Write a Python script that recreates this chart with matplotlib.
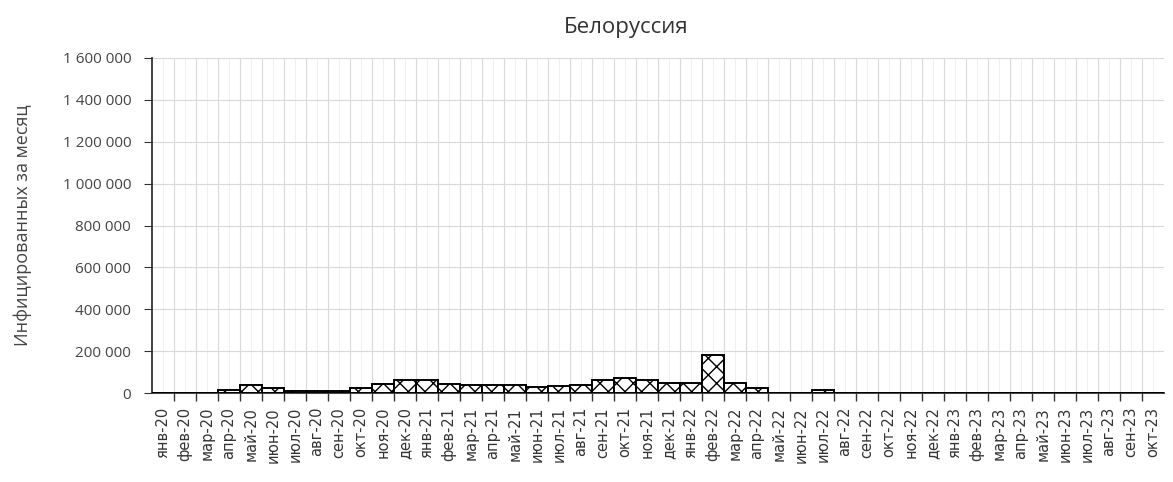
import matplotlib
matplotlib.use("Agg")
import matplotlib.pyplot as plt
import numpy as np
from matplotlib.ticker import FuncFormatter, MultipleLocator

plt.rcParams["font.family"] = ["Open Sans", "DejaVu Sans"]
plt.rcParams["hatch.linewidth"] = 1.0

months = ["янв", "фев", "мар", "апр", "май", "июн",
          "июл", "авг", "сен", "окт", "ноя", "дек"]
labels = [f"{m}-{y}" for y in ("20", "21", "22") for m in months] + \
         [f"{m}-23" for m in months[:10]]

# monthly infected
values = [0, 0, 2000, 16000, 36000, 26000, 11000, 8000, 10000, 22000, 45000, 63000,
          63000, 44000, 38000, 38000, 39000, 28000, 34000, 40000, 63000, 70000, 60000, 50000,
          50000, 180000, 50000, 24000, 2000, 1000, 13000, 0, 0, 0, 0, 0,
          0, 0, 0, 0, 0, 0, 0, 0, 0, 0]

fig = plt.figure(figsize=(11.73, 4.82), dpi=100)
ax = fig.add_axes([0.1296, 0.1846, 0.8627, 0.6951])

x = np.arange(len(labels))
ax.bar(x, values, width=1.0, color="white", edgecolor="black",
       linewidth=1.4, hatch="xx", zorder=3)

ax.set_xlim(-0.5, len(labels) - 0.5)
ax.set_ylim(0, 1600000)

ax.set_xticks(x)
ax.set_xticklabels(labels, rotation=90, fontsize=10.5, color="#333333",
                   family=["DejaVu Sans"])
ax.set_xticks(x[:-1] + 0.5, minor=True)
ax.tick_params(axis="x", which="major", length=0, pad=10)
ax.tick_params(axis="x", which="minor", length=6, width=1, color="#333333")

ax.yaxis.set_major_locator(MultipleLocator(200000))
ax.yaxis.set_major_formatter(FuncFormatter(lambda v, p: f"{int(v):,}".replace(",", " ")))
ax.tick_params(axis="y", labelsize=11, labelcolor="#444444", length=6,
               color="#333333", pad=9)

ax.grid(axis="y", which="major", color="#d9d9d9", linewidth=0.8, zorder=0)
ax.grid(axis="x", which="minor", color="#d9d9d9", linewidth=0.8, zorder=0)
for xc in x:
    ax.axvline(xc, color="#eeeeee", linewidth=0.6, zorder=0)

for side in ("top", "right"):
    ax.spines[side].set_visible(False)
ax.spines["left"].set_color("#333333")
ax.spines["bottom"].set_color("#333333")
ax.spines["left"].set_linewidth(1.3)
ax.spines["bottom"].set_linewidth(1.3)

ax.set_ylabel("Инфицированных за месяц", fontsize=13, color="#444444", labelpad=22)
fig.text(0.534, 0.942, "Белоруссия", ha="center", va="center", fontsize=16, color="#333333")

fig.savefig("out.png", dpi=100)
